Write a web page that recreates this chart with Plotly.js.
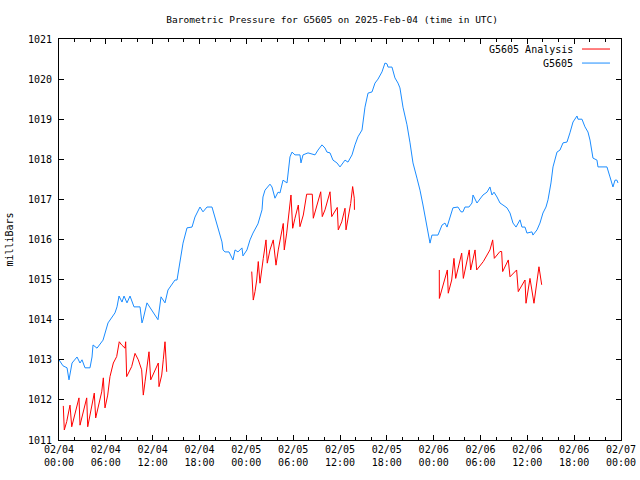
<!DOCTYPE html>
<html>
<head>
<meta charset="utf-8">
<script src="https://cdn.plot.ly/plotly-3.0.1.min.js"></script>
<style>html,body{margin:0;padding:0;background:#fff;}#chart{width:640px;height:480px;}</style>
</head>
<body>
<div id="chart"></div>
<script>
// Hours since 2025-02-04 00:00 UTC
var tickHours = [0, 6, 12, 18, 24, 30, 36, 42, 48, 54, 60, 66, 72];
var tickLabels = ["02/04<br>00:00", "02/04<br>06:00", "02/04<br>12:00", "02/04<br>18:00",
                  "02/05<br>00:00", "02/05<br>06:00", "02/05<br>12:00", "02/05<br>18:00",
                  "02/06<br>00:00", "02/06<br>06:00", "02/06<br>12:00", "02/06<br>18:00",
                  "02/07<br>00:00"];
var seriesNames = ["G5605 Analysis", "G5605"];
var seriesColors = ["#ff0000", "#1a8cff"];

// G5605 observations
var obsHours = [0, 0.51, 1.03, 1.28, 1.67, 2.31, 2.69, 2.95, 3.33, 3.97, 4.23, 4.36, 4.87, 5.64, 6.28, 6.79, 7.17, 7.43, 7.69, 8.07,
  8.33, 8.71, 9.10, 9.61, 10.38, 10.63, 10.76, 11.27, 11.91, 12.30, 12.68, 13.07, 13.32, 13.58, 13.96, 14.48, 14.86, 15.12, 15.50, 15.89,
  16.40, 17.04, 17.42, 18.06, 18.45, 18.96, 19.60, 19.98, 20.37, 20.88, 21.01, 21.27, 21.78, 22.16, 22.29, 22.55, 22.93, 23.44, 23.57, 24.08,
  24.47, 24.85, 25.49, 26.01, 26.13, 26.39, 27.03, 27.29, 27.67, 28.06, 28.31, 28.70, 29.21, 29.59, 29.85, 30.23, 30.87, 31.00, 31.26, 31.90,
  32.80, 33.18, 33.69, 34.08, 34.33, 34.72, 35.10, 35.61, 36.00, 36.38, 36.64, 37.02, 37.54, 37.92, 38.30, 38.82, 39.20, 39.59, 40.10, 40.48,
  40.87, 41.38, 41.76, 42.02, 42.15, 42.66, 43.04, 43.43, 43.68, 44.07, 44.58, 44.97, 45.35, 45.86, 46.25, 46.63, 47.14, 47.53, 47.78, 48.55,
  49.07, 49.45, 49.71, 50.09, 50.47, 51.11, 51.50, 51.75, 52.01, 52.52, 52.91, 53.04, 53.55, 53.93, 54.32, 54.83, 55.21, 55.47, 55.73, 56.11,
  56.50, 56.88, 57.39, 57.78, 58.16, 58.55, 59.06, 59.31, 59.70, 59.95, 60.59, 60.72, 61.24, 61.62, 62.00, 62.39, 62.65, 63.03, 63.29, 63.80,
  64.18, 64.57, 65.08, 65.46, 65.85, 66.36, 66.49, 67.00, 67.38, 67.77, 68.03, 68.41, 68.92, 69.05, 70.20, 70.59, 70.84, 70.97, 71.23, 71.48, 71.61];
var obsPressure = [1013.00, 1012.85, 1012.80, 1012.50, 1012.92, 1013.07, 1012.92, 1013.00, 1012.80, 1012.80, 1013.07, 1013.37, 1013.29, 1013.49, 1013.92, 1014.07, 1014.17, 1014.32, 1014.59, 1014.44,
  1014.59, 1014.42, 1014.59, 1014.32, 1014.32, 1013.92, 1014.00, 1014.42, 1014.24, 1014.12, 1014.00, 1014.57, 1014.49, 1014.42, 1014.74, 1014.87, 1014.99, 1014.99, 1015.49, 1015.91,
  1016.29, 1016.31, 1016.56, 1016.81, 1016.69, 1016.81, 1016.81, 1016.54, 1016.31, 1015.94, 1015.74, 1015.69, 1015.69, 1015.56, 1015.49, 1015.74, 1015.69, 1015.79, 1015.59, 1015.74,
  1015.99, 1016.16, 1016.39, 1016.74, 1017.06, 1017.23, 1017.38, 1017.31, 1017.03, 1017.18, 1017.16, 1017.48, 1017.41, 1018.06, 1018.18, 1018.11, 1018.11, 1017.91, 1018.11, 1018.16,
  1018.11, 1018.23, 1018.36, 1018.28, 1018.18, 1018.16, 1017.98, 1017.91, 1017.81, 1017.91, 1017.98, 1017.93, 1018.11, 1018.36, 1018.56, 1018.73, 1019.30, 1019.65, 1019.68, 1019.90,
  1020.00, 1020.18, 1020.40, 1020.38, 1020.30, 1020.30, 1020.03, 1019.90, 1019.78, 1019.30, 1018.86, 1018.41, 1017.91, 1017.53, 1017.23, 1016.86, 1016.31, 1015.91, 1016.11, 1016.11,
  1016.36, 1016.41, 1016.31, 1016.56, 1016.79, 1016.81, 1016.69, 1016.69, 1016.81, 1016.81, 1016.91, 1017.11, 1016.91, 1017.01, 1017.11, 1017.18, 1017.31, 1017.11, 1017.18, 1017.06,
  1016.91, 1016.86, 1016.79, 1016.66, 1016.41, 1016.31, 1016.49, 1016.31, 1016.31, 1016.16, 1016.19, 1016.11, 1016.24, 1016.41, 1016.66, 1016.81, 1016.99, 1017.41, 1017.81, 1018.18,
  1018.23, 1018.41, 1018.43, 1018.66, 1018.93, 1019.08, 1019.00, 1019.00, 1018.81, 1018.68, 1018.48, 1018.03, 1017.98, 1017.81, 1017.81, 1017.56, 1017.41, 1017.31, 1017.48, 1017.48, 1017.41];

// G5605 Analysis (three runs, separated by gaps)
var anaHours = [0.55, 0.68, 0.99, 1.41, 1.63, 1.96, 2.56, 2.69, 3.11, 3.55, 3.68, 4.19, 4.52, 4.70, 5.00, 5.47, 5.68, 5.89, 6.24, 6.53,
  6.96, 7.39, 7.72, 8.03, 8.46, 8.54, 8.67, 9.31, 9.74, 10.16, 10.59, 10.80, 11.02, 11.36, 11.53, 11.75, 12.30, 12.72, 12.81, 13.16,
  13.36, 13.58, 13.80, null,
  24.69, 24.81, 24.89, 25.11, 25.33, 25.53, 25.75, 26.17, 26.52, 26.68, 27.03, 27.45, 27.80, 28.09, 28.73, 28.86, 29.17, 29.72, 29.94, 30.23,
  30.66, 30.87, 31.30, 31.73, 32.45, 32.58, 32.92, 33.53, 33.73, 34.08, 34.72, 34.94, 35.65, 35.78, 36.22, 36.64, 36.77, 37.37, 37.62, 37.83,
  37.85, null,
  48.72, 48.73, 49.03, 49.75, 49.87, 50.31, 50.60, 50.82, 51.59, 51.80, 52.56, 52.74, 53.30, 53.51, 54.36, 55.21, 55.56, 55.77, 56.49, 56.71,
  56.84, 57.56, 57.78, 58.63, 58.84, 59.70, 59.83, 60.34, 60.85, 61.49, 61.84];
var anaPressure = [1011.85, 1011.25, 1011.46, 1011.87, 1011.33, 1011.58, 1012.05, 1011.37, 1011.71, 1012.05, 1011.33, 1011.80, 1012.17, 1011.55, 1011.80, 1012.20, 1012.55, 1011.80, 1012.12, 1012.58,
  1012.92, 1013.08, 1013.45, 1013.37, 1013.29, 1013.45, 1012.58, 1012.83, 1013.16, 1013.00, 1012.75, 1012.12, 1012.45, 1012.87, 1013.20, 1012.50, 1012.75, 1012.92, 1012.33, 1012.62,
  1013.00, 1013.45, 1012.70, null,
  1015.20, 1014.82, 1014.49, 1014.70, 1014.99, 1015.45, 1014.91, 1015.53, 1015.99, 1015.41, 1015.74, 1015.99, 1015.36, 1015.74, 1016.40, 1015.74, 1016.16, 1017.11, 1016.28, 1016.53,
  1016.86, 1016.32, 1016.61, 1017.13, 1017.13, 1016.53, 1016.78, 1017.19, 1016.57, 1016.74, 1017.19, 1016.57, 1016.80, 1016.24, 1016.44, 1016.78, 1016.24, 1016.90, 1017.32, 1017.03,
  1016.74, null,
  1015.24, 1014.53, 1014.74, 1015.24, 1014.66, 1014.99, 1015.53, 1015.03, 1015.66, 1015.03, 1015.74, 1015.24, 1015.74, 1015.24, 1015.45, 1015.74, 1015.99, 1015.53, 1015.70, 1015.70,
  1015.20, 1015.49, 1015.07, 1015.24, 1014.70, 1014.99, 1014.41, 1015.03, 1014.41, 1015.32, 1014.87];

var FONT = "DejaVu Sans Mono, monospace";

var traces = [
  {x: anaHours, y: anaPressure, type: "scatter", mode: "lines", name: seriesNames[0],
   line: {color: seriesColors[0], width: 1}, connectgaps: false, hoverinfo: "skip"},
  {x: obsHours, y: obsPressure, type: "scatter", mode: "lines", name: seriesNames[1],
   line: {color: seriesColors[1], width: 1}, hoverinfo: "skip"}
];

// gnuplot-style key: right-aligned text followed by a sample line
var keyRowsY = [0.975, 0.940];
var annotations = [];
var shapes = [];
for (var i = 0; i < seriesNames.length; i++) {
  annotations.push({text: seriesNames[i], xref: "paper", yref: "paper", x: 0.919, y: keyRowsY[i],
                    xanchor: "right", yanchor: "middle", showarrow: false,
                    font: {family: FONT, size: 10, color: "#000"}});
  shapes.push({type: "line", xref: "paper", yref: "paper", x0: 0.9306, x1: 0.9804,
               y0: keyRowsY[i], y1: keyRowsY[i], line: {color: seriesColors[i], width: 1}});
}

var layout = {
  width: 640, height: 480,
  margin: {l: 59, r: 19, t: 39, b: 40, pad: 0},
  paper_bgcolor: "#ffffff", plot_bgcolor: "#ffffff",
  font: {family: FONT, size: 10, color: "#000000"},
  title: {text: "Barometric Pressure for G5605 on 2025-Feb-04 (time in UTC)",
          font: {family: FONT, size: 9.5, color: "#000"},
          x: 0.519, xanchor: "center", xref: "container", y: 0.96, yanchor: "middle", yref: "container"},
  showlegend: false,
  annotations: annotations,
  shapes: shapes,
  xaxis: {range: [0, 72], tickmode: "array", tickvals: tickHours, ticktext: tickLabels,
          showgrid: false, zeroline: false, showline: true, linecolor: "#000", linewidth: 1,
          mirror: "allticks", ticks: "inside", ticklen: 5, tickcolor: "#000",
          minor: {tickmode: "linear", tick0: 0, dtick: 2, ticks: "inside", ticklen: 3, tickcolor: "#000", showgrid: false},
          tickfont: {family: FONT, size: 10}, fixedrange: true},
  yaxis: {range: [1011, 1021], dtick: 1, tick0: 1011, showgrid: false, zeroline: false,
          showline: true, linecolor: "#000", linewidth: 1, mirror: "allticks",
          ticks: "inside", ticklen: 5, tickcolor: "#000", tickformat: "d",
          tickfont: {family: FONT, size: 10}, ticklabelstandoff: 4,
          title: {text: "milliBars", font: {family: FONT, size: 10}, standoff: 12}, fixedrange: true}
};

Plotly.newPlot("chart", traces, layout, {displayModeBar: false, staticPlot: true});
</script>
</body>
</html>
